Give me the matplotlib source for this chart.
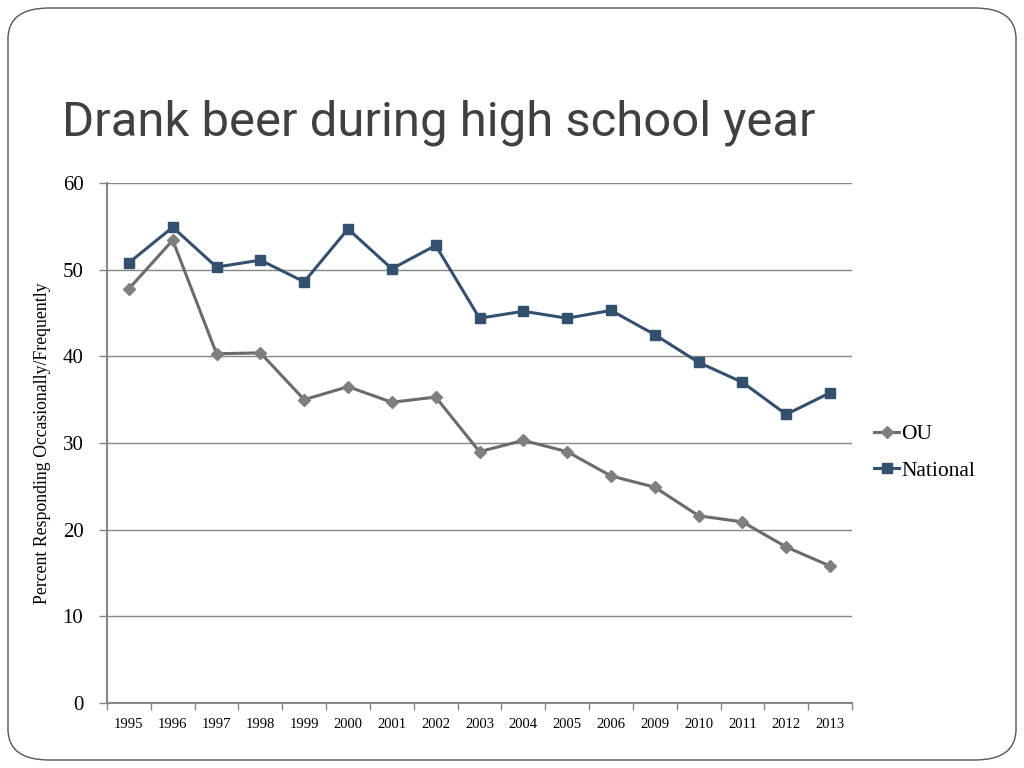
import matplotlib.pyplot as plt
import numpy as np
from matplotlib import font_manager
from matplotlib.patches import FancyBboxPatch

years = ['1995', '1996', '1997', '1998', '1999', '2000', '2001', '2002', '2003',
         '2004', '2005', '2006', '2009', '2010', '2011', '2012', '2013']
ou = [47.8, 53.4, 40.3, 40.4, 35.0, 36.5, 34.7, 35.3, 29.0,
      30.3, 29.0, 26.2, 24.9, 21.6, 20.9, 18.0, 15.8]
national = [50.8, 54.9, 50.3, 51.1, 48.6, 54.7, 50.1, 52.8, 44.4,
            45.2, 44.4, 45.3, 42.5, 39.3, 37.0, 33.3, 35.8]

serif = ['Liberation Serif', 'DejaVu Serif']

# a narrow sans for the title if one is around
names = {f.name for f in font_manager.fontManager.ttflist}
if 'Liberation Sans Narrow' in names:
    title_font, title_size = ['Liberation Sans Narrow'], 39
else:
    title_font, title_size = ['Roboto', 'DejaVu Sans'], 35.3

fig = plt.figure(figsize=(10.24, 7.68), dpi=100)

# slide frame
frame = FancyBboxPatch((8/1024, 8/768), 1008/1024, 752/768,
                       boxstyle='round,pad=0,rounding_size=0.04',
                       transform=fig.transFigure, fill=False,
                       edgecolor='#555555', linewidth=1.0)
fig.patches.append(frame)

fig.text(62/1024, 1 - 136/768, 'Drank beer during high school year',
         fontsize=title_size, color='#404040', family=title_font,
         ha='left', va='baseline')

ax = fig.add_axes([107/1024, 65/768, 745/1024, 520/768])
x = np.arange(len(years))
ax.plot(x, ou, color='#6b6b6b', lw=2.2, marker='D', markersize=6,
        markerfacecolor='#7f7f7f', markeredgecolor='#7f7f7f', label='OU')
ax.plot(x, national, color='#34506f', lw=2.2, marker='s', markersize=7.5,
        markerfacecolor='#34506f', markeredgecolor='#34506f', label='National')

ax.set_xlim(-0.5, len(years) - 0.5)
ax.set_ylim(0, 60)
ax.set_yticks(range(0, 61, 10))
ax.set_xticks(x)
ax.set_xticklabels(years, fontsize=10.5, family=serif)
ax.set_xticks(np.arange(-0.5, len(years), 1), minor=True)
ax.tick_params(axis='x', which='major', length=0, pad=11)
ax.tick_params(axis='x', which='minor', length=5, color='#868686', width=1)
ax.tick_params(axis='y', length=6, color='#868686', width=1, labelsize=15, pad=11)
for lab in ax.get_yticklabels():
    lab.set_family(serif)

ax.grid(axis='y', color='#868686', lw=1)
ax.set_axisbelow(True)
for s in ['top', 'right']:
    ax.spines[s].set_visible(False)
for s in ['left', 'bottom']:
    ax.spines[s].set_color('#868686')
    ax.spines[s].set_linewidth(1.5)

ax.set_ylabel('Percent Responding Occasionally/Frequently', fontsize=12.8,
              family=serif, labelpad=8)

ax.legend(loc='center left', bbox_to_anchor=(1.003, 0.482), frameon=False,
          prop={'family': serif, 'size': 15.5}, handlelength=1.2,
          handletextpad=0.1, labelspacing=0.75)

fig.savefig('out.png', dpi=100)
